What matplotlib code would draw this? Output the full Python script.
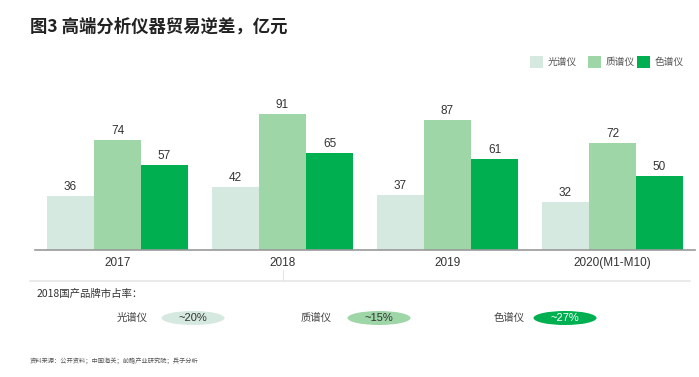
import numpy as np
import matplotlib
matplotlib.use("Agg")
import matplotlib.pyplot as plt
from matplotlib.patches import Rectangle, Ellipse

plt.rcParams['font.family'] = ['Liberation Sans', 'Noto Sans CJK SC', 'DejaVu Sans']
CJK = ['Noto Sans CJK SC', 'DejaVu Sans']

# data
years = ['2017', '2018', '2019', '2020(M1-M10)']
series = ['光谱仪', '质谱仪', '色谱仪']
spectro = [36, 42, 37, 32]
mass = [74, 91, 87, 72]
chroma = [57, 65, 61, 50]
colors = ['#d6e9e0', '#9ed6a8', '#00b050']
share_2018 = ['~20%', '~15%', '~27%']

fig = plt.figure(figsize=(6.99, 3.77), dpi=100)

# main bar chart
ax = fig.add_axes([35 / 699, 1 - 250 / 377, 660 / 699, 149 / 377])
x = np.arange(len(years))
w = 0.285
for k, vals in enumerate([spectro, mass, chroma]):
    bars = ax.bar(x + (k - 1) * w, vals, width=w, color=colors[k], edgecolor='none')
    for b, v in zip(bars, vals):
        ax.text(b.get_x() + b.get_width() / 2, v + 2, str(v), ha='center', va='bottom',
                fontsize=8.5, color='#333333')
ax.set_xlim(-0.5, 3.5)
ax.set_ylim(0, 100)
ax.set_xticks(x)
ax.set_xticklabels(years, fontsize=8.5, color='#333333')
ax.tick_params(axis='x', length=0, pad=5)
ax.set_yticks([])
for s in ['top', 'right', 'left']:
    ax.spines[s].set_visible(False)
ax.spines['bottom'].set_color('#999999')
ax.spines['bottom'].set_linewidth(1.2)

# overlay in pixel coordinates for the annotations
ov = fig.add_axes([0, 0, 1, 1])
ov.set_xlim(0, 699)
ov.set_ylim(377, 0)
ov.axis('off')

ov.text(30, 27, '图3 高端分析仪器贸易逆差，亿元', fontsize=12.5, fontweight='bold',
        va='center', ha='left', family=CJK, color='#222222')

# legend
leg_x = [530, 588, 637]
for lx, name, c in zip(leg_x, series, colors):
    ov.add_patch(Rectangle((lx, 56), 13, 12, color=c, lw=0))
    ov.text(lx + 18, 62, name, fontsize=7, va='center', ha='left', family=CJK, color='#555555')

# separator
ov.plot([30, 690], [281, 281], color='#e6e6e6', lw=1.2)
ov.plot([283, 283], [270, 281], color='#e6e6e6', lw=0.8)

ov.text(37, 294, '2018国产品牌市占率：', fontsize=7.5, va='center', ha='left',
        family=CJK, color='#333333')

lab_x = [132, 316, 509]
pill_x = [193, 379, 565]
txt_colors = ['#333333', '#333333', 'white']
for lx, px, name, sh, c, tc in zip(lab_x, pill_x, series, share_2018, colors, txt_colors):
    ov.text(lx, 318, name, fontsize=7.5, va='center', ha='center', family=CJK, color='#444444')
    ov.add_patch(Ellipse((px, 318), 63, 14, color=c, lw=0))
    ov.text(px, 318, sh, fontsize=8, va='center', ha='center', color=tc)

ov.text(30, 361, '资料来源：公开资料；中国海关；前瞻产业研究院；兵子分析', fontsize=4.5,
        va='center', ha='left', family=CJK, color='#555555')

fig.savefig('out.png', dpi=100)
